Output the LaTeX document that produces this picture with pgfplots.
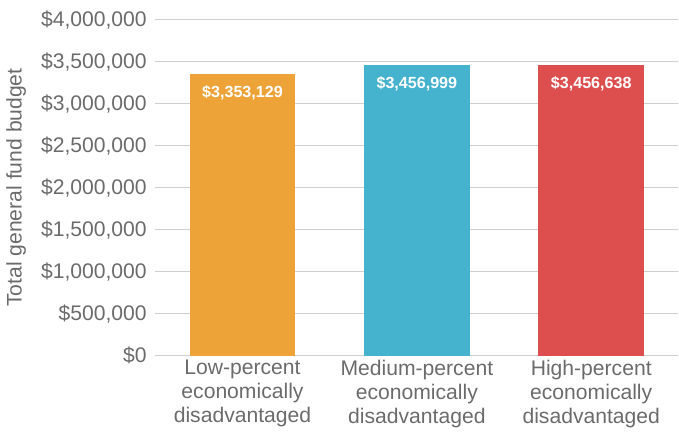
\documentclass[border={3pt 0pt 0pt 7pt}]{standalone}
\usepackage{pgfplots}
\pgfplotsset{compat=1.18}
\usepackage{fontspec}
\setmainfont{Liberation Sans}
\definecolor{lowc}{HTML}{EDA337}
\definecolor{medc}{HTML}{45B2CE}
\definecolor{highc}{HTML}{DD4E4E}
\definecolor{txt}{HTML}{6B6B6B}
\definecolor{gridc}{HTML}{CFCFCF}
\begin{document}
\begin{tikzpicture}
\begin{axis}[
  scale only axis, width=520pt, height=334pt,
  ymin=0, ymax=4000000, ytick={0,500000,...,4000000},
  xmin=-0.5, xmax=2.5, xtick={0,1,2},
  xticklabels={{Low-percent\\economically\\disadvantaged},{Medium-percent\\economically\\disadvantaged},{High-percent\\economically\\disadvantaged}},
  xticklabel style={align=center, font=\fontsize{21}{24}\selectfont, text=txt, yshift=-1pt},
  yticklabel style={font=\fontsize{21}{24}\selectfont, text=txt, xshift=-5pt},
  ylabel={Total general fund budget},
  ylabel style={font=\fontsize{21}{24}\selectfont, text=txt},
  ylabel shift=8pt,
  scaled y ticks=false,
  yticklabel={\$\pgfmathprintnumber{\tick}},
  /pgf/number format/.cd, fixed, 1000 sep={,}, assume math mode=true,
  /pgfplots/.cd,
  axis x line*=bottom, axis y line*=left,
  x axis line style={draw=gridc, line width=1.2pt, -},
  y axis line style={draw=none},
  major tick length=0pt,
  ymajorgrids, grid style={draw=gridc, line width=1.2pt},
  ybar, bar width=105pt, bar shift=0pt,
  point meta=explicit symbolic,
  nodes near coords={\$\pgfplotspointmeta},
  every node near coord/.append style={anchor=north, text=white, font=\bfseries\fontsize{16}{18}\selectfont, yshift=-8pt},
]
\addplot[fill=lowc, draw=none] coordinates {(0,3353129) [3,353,129]};
\addplot[fill=medc, draw=none] coordinates {(1,3456999) [3,456,999]};
\addplot[fill=highc, draw=none] coordinates {(2,3456638) [3,456,638]};
\end{axis}
\end{tikzpicture}
\end{document}
